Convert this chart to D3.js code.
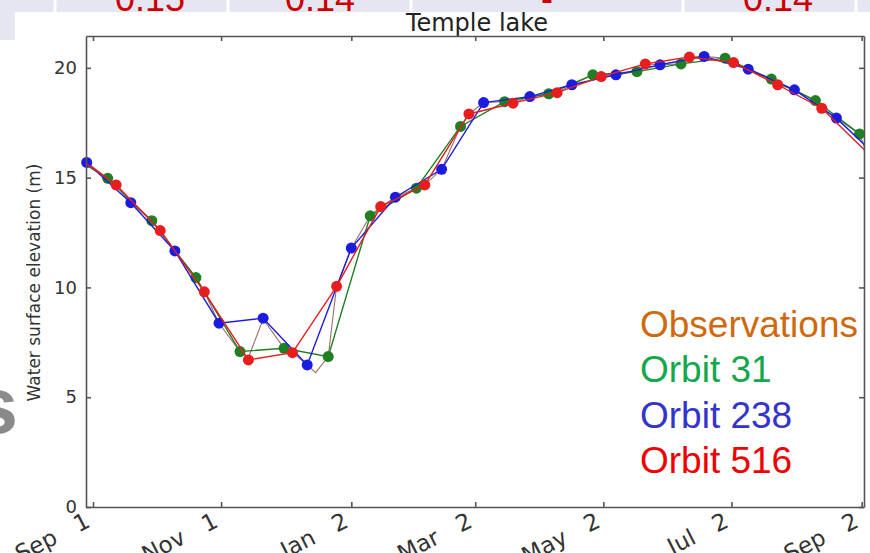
<!DOCTYPE html>
<html>
<head>
<meta charset="utf-8">
<script src="https://cdn.jsdelivr.net/npm/d3@7/dist/d3.min.js"></script>
<style>
body { margin: 0; background: #fff; }
svg { display: block; }
.axis text { font-family: "DejaVu Sans", sans-serif; font-size: 18px; fill: #333; }
.x.axis text { font-size: 23px; white-space: pre; }
.axis path, .axis line { stroke: #555; stroke-width: 1.6; }
.legend text { font-family: "Liberation Sans", Arial, sans-serif; font-size: 37px; }
</style>
</head>
<body>
<script>
var parseDate = d3.timeParse("%Y-%m-%d");

// values in the table row above the chart (only its lower edge shows)
var tableValues = ["0.15", "0.14", "-", "0.14"];

// y ticks and x tick dates
var yTicks = [0, 5, 10, 15, 20];
var xTickDates = ["2014-09-01", "2014-11-01", "2015-01-02", "2015-03-02", "2015-05-02", "2015-07-02", "2015-09-02"];

// Orbit 31 (green)
var orbit31Dates = ["2014-08-18", "2014-09-08", "2014-09-29", "2014-10-20", "2014-11-10", "2014-12-01", "2014-12-22",
  "2015-01-11", "2015-02-02", "2015-02-23", "2015-03-16", "2015-04-06", "2015-04-27", "2015-05-18",
  "2015-06-08", "2015-06-29", "2015-07-21", "2015-08-11", "2015-09-01"];
var orbit31Values = [16.2, 14.97, 13.04, 10.45, 7.08, 7.23, 6.85,
  13.26, 14.52, 17.33, 18.46, 18.82, 19.68, 19.83,
  20.18, 20.44, 19.49, 18.51, 16.99];

// Orbit 238 (blue)
var orbit238Dates = ["2014-08-29", "2014-09-19", "2014-10-10", "2014-10-31", "2014-11-21", "2014-12-12",
  "2015-01-02", "2015-01-23", "2015-02-14", "2015-03-06", "2015-03-28", "2015-04-17", "2015-05-08",
  "2015-05-29", "2015-06-19", "2015-07-10", "2015-08-01", "2015-08-21", "2015-09-11"];
var orbit238Values = [15.69, 13.86, 11.66, 8.37, 8.60, 6.47,
  11.79, 14.11, 15.38, 18.42, 18.69, 19.23, 19.68,
  20.14, 20.52, 19.94, 19.00, 17.71, 15.8];

// Orbit 516 (red)
var orbit516Dates = ["2014-08-22", "2014-09-12", "2014-10-03", "2014-10-24", "2014-11-14", "2014-12-05",
  "2014-12-26", "2015-01-16", "2015-02-06", "2015-02-27", "2015-03-20", "2015-04-10", "2015-05-01",
  "2015-05-22", "2015-06-12", "2015-07-03", "2015-07-24", "2015-08-14", "2015-09-04"];
var orbit516Values = [16.1, 14.67, 12.59, 9.80, 6.70, 7.03,
  10.05, 13.68, 14.67, 17.90, 18.39, 18.87, 19.60,
  20.18, 20.49, 20.24, 19.23, 18.16, 16.2];

// gauge observations (thin line under the orbits)
var obsDates = ["2014-08-22", "2014-08-29", "2014-09-08", "2014-09-12", "2014-09-19", "2014-09-29", "2014-10-03",
  "2014-10-10", "2014-10-20", "2014-10-24", "2014-10-31", "2014-11-10", "2014-11-14", "2014-11-21",
  "2014-12-01", "2014-12-05", "2014-12-12", "2014-12-16", "2014-12-22", "2014-12-26", "2015-01-02",
  "2015-01-11", "2015-01-16", "2015-01-23", "2015-02-02", "2015-02-06", "2015-02-14", "2015-02-23",
  "2015-02-27", "2015-03-06", "2015-03-16", "2015-03-20", "2015-03-28", "2015-04-06", "2015-04-10",
  "2015-04-17", "2015-04-27", "2015-05-01", "2015-05-08", "2015-05-18", "2015-05-22", "2015-05-29",
  "2015-06-08", "2015-06-12", "2015-06-19", "2015-06-29", "2015-07-03", "2015-07-10", "2015-07-21",
  "2015-07-24", "2015-08-01", "2015-08-11", "2015-08-14", "2015-08-21", "2015-09-01", "2015-09-04"];
var obsValues = [16.1, 15.69, 14.97, 14.67, 13.86, 13.04, 12.59,
  11.66, 10.45, 9.80, 8.37, 7.08, 6.80, 8.55,
  7.23, 7.03, 6.47, 6.12, 6.85, 10.05, 11.79,
  13.26, 13.68, 14.11, 14.52, 14.67, 15.38, 17.33,
  17.90, 18.42, 18.46, 18.39, 18.69, 18.82, 18.87,
  19.23, 19.68, 19.60, 19.68, 19.83, 20.18, 20.14,
  20.18, 20.49, 20.52, 20.44, 20.24, 19.94, 19.49,
  19.23, 19.00, 18.51, 18.16, 17.71, 16.99, 16.2];

var legendLabels = ["Observations", "Orbit 31", "Orbit 238", "Orbit 516"];
var legendColors = ["#d0680e", "#13a84b", "#3434cc", "#f00000"];

function makeSeries(dates, values) {
  return dates.map(function(d, i) { return {date: parseDate(d), value: values[i]}; });
}

var orbits = [
  {name: "Orbit 31", color: "#1f7f22", data: makeSeries(orbit31Dates, orbit31Values)},
  {name: "Orbit 238", color: "#1c1ce0", data: makeSeries(orbit238Dates, orbit238Values)},
  {name: "Orbit 516", color: "#e81e1e", data: makeSeries(orbit516Dates, orbit516Values)}
];
var observations = makeSeries(obsDates, obsValues);

var margin = {top: 36, right: 6, bottom: 46, left: 86},
    width = 870 - margin.left - margin.right,
    height = 553 - margin.top - margin.bottom;

var x = d3.scaleTime()
    .domain([new Date(2014, 7, 28, 16), new Date(2015, 8, 3, 3)])
    .range([0, width]);

var y = d3.scaleLinear()
    .domain([0, 21.45])
    .range([height, 0]);

var svg = d3.select("body").append("svg")
    .attr("width", 870)
    .attr("height", 553);

// slide background: lavender table strip on top, white picture below
svg.append("rect").attr("width", 870).attr("height", 553).attr("fill", "#fff");
svg.append("rect").attr("width", 15).attr("height", 40).attr("fill", "#e6e6f3");

var g = svg.append("g")
    .attr("transform", "translate(" + margin.left + "," + margin.top + ")");

g.append("text")
    .attr("x", width / 2 + 2)
    .attr("y", -5)
    .attr("text-anchor", "middle")
    .style("font-family", "DejaVu Sans, sans-serif")
    .style("font-size", "24px")
    .style("fill", "#222")
    .text("Temple lake");

// table strip covers the top of the title
svg.append("rect").attr("width", 870).attr("height", 12).attr("fill", "#e6e6f3");
svg.selectAll("line.cellgap")
    .data([55, 228, 411, 683, 856])
    .enter().append("line")
    .attr("x1", function(d) { return d; }).attr("x2", function(d) { return d; })
    .attr("y1", 0).attr("y2", 12)
    .attr("stroke", "#fff").attr("stroke-width", 3);
svg.selectAll("text.cell")
    .data(tableValues)
    .enter().append("text")
    .attr("class", "cell")
    .attr("x", function(d, i) { return [150, 320, 547, 778][i]; })
    .attr("y", 11)
    .attr("text-anchor", "middle")
    .style("font-family", "Liberation Sans, Arial, sans-serif")
    .style("font-size", "36px")
    .style("fill", "#cc0000")
    .text(function(d) { return d; });

g.append("clipPath").attr("id", "clip")
    .append("rect").attr("width", width).attr("height", height);

var line = d3.line()
    .x(function(d) { return x(d.date); })
    .y(function(d) { return y(d.value); });

var plot = g.append("g");

plot.append("path")
    .datum(observations)
    .attr("clip-path", "url(#clip)")
    .attr("fill", "none")
    .attr("stroke", "#7a4036")
    .attr("stroke-opacity", 0.75)
    .attr("stroke-width", 1.1)
    .attr("d", line);

var inside = function(d) { return d.date >= x.domain()[0] && d.date <= x.domain()[1]; };

orbits.forEach(function(s) {
  plot.append("path")
      .datum(s.data)
      .attr("clip-path", "url(#clip)")
      .attr("fill", "none")
      .attr("stroke", s.color)
      .attr("stroke-width", 1.4)
      .attr("d", line);

  plot.selectAll(null)
      .data(s.data.filter(inside))
      .enter().append("circle")
      .attr("cx", function(d) { return x(d.date); })
      .attr("cy", function(d) { return y(d.value); })
      .attr("r", 5.5)
      .attr("fill", s.color);
});

// axes with inward ticks on all four sides
var xAxis = d3.axisBottom(x)
    .tickValues(xTickDates.map(parseDate))
    .tickFormat(d3.timeFormat("%b  %e"))
    .tickSizeInner(-5).tickSizeOuter(0);

var xa = g.append("g")
    .attr("class", "x axis")
    .attr("transform", "translate(0," + height + ")")
    .call(xAxis);
xa.selectAll("text")
    .attr("xml:space", "preserve")
    .attr("y", 0).attr("dy", 0)
    .attr("text-anchor", "end")
    .attr("transform", "translate(-2,19) rotate(-27)");

g.append("g")
    .attr("class", "y axis")
    .call(d3.axisTop(x).tickValues(xTickDates.map(parseDate)).tickSizeInner(-5).tickSizeOuter(0).tickFormat(""));

g.append("g")
    .attr("class", "y axis")
    .call(d3.axisLeft(y).tickValues(yTicks).tickSizeInner(-5).tickSizeOuter(0).tickPadding(9));

g.append("g")
    .attr("class", "y axis")
    .attr("transform", "translate(" + width + ",0)")
    .call(d3.axisRight(y).tickValues(yTicks).tickSizeInner(-5).tickSizeOuter(0).tickFormat(""));

g.append("text")
    .attr("transform", "translate(-46," + (height / 2 + 11) + ") rotate(-90)")
    .attr("text-anchor", "middle")
    .style("font-family", "DejaVu Sans, sans-serif")
    .style("font-size", "17px")
    .style("fill", "#333")
    .text("Water surface elevation (m)");

// legend typed on the slide
var legend = svg.append("g").attr("class", "legend");
legend.selectAll("text")
    .data(legendLabels)
    .enter().append("text")
    .attr("x", 640)
    .attr("y", function(d, i) { return 337 + i * 45.3; })
    .style("fill", function(d, i) { return legendColors[i]; })
    .text(function(d) { return d; });

// end of a slide heading cut off at the left edge
svg.append("text")
    .attr("x", 18)
    .attr("y", 433)
    .attr("text-anchor", "end")
    .style("font-family", "Liberation Sans, Arial, sans-serif")
    .style("font-size", "80px")
    .style("font-weight", "bold")
    .style("fill", "#8a8a8a")
    .text("s");
</script>
</body>
</html>
